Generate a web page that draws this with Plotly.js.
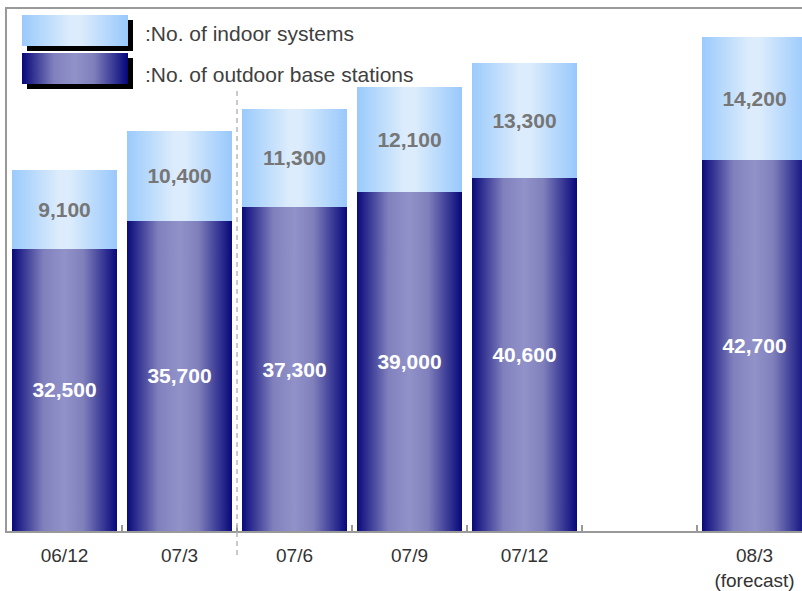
<!DOCTYPE html>
<html>
<head>
<meta charset="utf-8">
<script src="https://cdn.plot.ly/plotly-3.0.1.min.js"></script>
<style>html,body{margin:0;padding:0;background:#fff;}#chart{width:802px;height:591px;}</style>
</head>
<body>
<div id="chart"></div>
<script>
// ---- data ----
const categories = ['06/12', '07/3', '07/6', '07/9', '07/12', ' ', '08/3<br>(forecast)'];
const outdoorStations = [32500, 35700, 37300, 39000, 40600, null, 42700];
const indoorSystems   = [9100, 10400, 11300, 12100, 13300, null, 14200];
const legendLabels = [':No. of indoor systems', ':No. of outdoor base stations'];

const fmt = v => (v === null ? '' : v.toLocaleString('en-US'));
const FONT = '"Liberation Sans", Arial, sans-serif';

// plot area in pixels (for paper conversions of decorations)
const W = 802, H = 591, L = 7, R = 0, T = 9, B = 60;
const pw = W - L - R, ph = H - T - B;
const px = x => (x - L) / pw;
const py = y => (H - B - y) / ph;

const traces = [
  {
    type: 'bar', name: 'outdoor', x: categories, y: outdoorStations,
    text: outdoorStations.map(fmt), textposition: 'inside', insidetextanchor: 'middle',
    textangle: 0, constraintext: 'none',
    textfont: {family: FONT, size: 21, color: '#ffffff', weight: 'bold'},
    marker: {color: '#5a5aa8', line: {width: 0}}, hoverinfo: 'skip'
  },
  {
    type: 'bar', name: 'indoor', x: categories, y: indoorSystems,
    text: indoorSystems.map(fmt), textposition: 'inside', insidetextanchor: 'middle',
    textangle: 0, constraintext: 'none',
    textfont: {family: FONT, size: 21, color: '#767676', weight: 'bold'},
    marker: {color: '#bcdcfc', line: {width: 0}}, hoverinfo: 'skip'
  }
];

const shapes = [
  // legend swatch shadows + swatches
  {type: 'rect', xref: 'paper', yref: 'paper', x0: px(27), x1: px(133), y0: py(51), y1: py(20), fillcolor: '#000', line: {width: 0}},
  {type: 'rect', xref: 'paper', yref: 'paper', x0: px(22), x1: px(128), y0: py(46), y1: py(15), fillcolor: '#bcdcfc', line: {width: 0}},
  {type: 'rect', xref: 'paper', yref: 'paper', x0: px(27), x1: px(133), y0: py(89), y1: py(58), fillcolor: '#000', line: {width: 0}},
  {type: 'rect', xref: 'paper', yref: 'paper', x0: px(22), x1: px(128), y0: py(84), y1: py(53), fillcolor: '#5a5aa8', line: {width: 0}},
  // dashed divider
  {type: 'line', xref: 'x', yref: 'paper', x0: 1.5, x1: 1.5, y0: py(555), y1: py(88), line: {color: '#b8b8b8', width: 1.5, dash: '5px,4px'}}
];

const annotations = [
  {xref: 'paper', yref: 'paper', x: px(143), y: py(33), xanchor: 'left', yanchor: 'middle', showarrow: false,
   text: legendLabels[0], font: {family: FONT, size: 21, color: '#404040'}},
  {xref: 'paper', yref: 'paper', x: px(143), y: py(74), xanchor: 'left', yanchor: 'middle', showarrow: false,
   text: legendLabels[1], font: {family: FONT, size: 21, color: '#404040'}}
];

const layout = {
  width: W, height: H,
  margin: {l: L, r: R, t: T, b: B, pad: 0},
  paper_bgcolor: '#fff', plot_bgcolor: '#fff',
  barmode: 'stack', bargap: 0.08,
  showlegend: false,
  font: {family: FONT, color: '#333'},
  xaxis: {
    type: 'category', range: [-0.5, -0.5 + pw / 115],
    showline: true, linecolor: '#999', linewidth: 2, mirror: true,
    ticks: 'inside', tickson: 'boundaries', ticklen: 6, tickcolor: '#999', tickwidth: 2,
    ticklabelstandoff: 6,
    tickfont: {family: FONT, size: 19, color: '#333'},
    showgrid: false, zeroline: false, fixedrange: true
  },
  yaxis: {
    range: [0, 60100], showline: true, linecolor: '#999', linewidth: 2,
    showticklabels: false, ticks: '', showgrid: false, zeroline: false, fixedrange: true
  },
  shapes: shapes,
  annotations: annotations
};

function addGradients(gd) {
  const svg = gd.querySelector('svg.main-svg');
  let defs = svg.querySelector('defs');
  const NS = 'http://www.w3.org/2000/svg';
  function grad(id, stops) {
    const g = document.createElementNS(NS, 'linearGradient');
    g.setAttribute('id', id);
    g.setAttribute('x1', '0'); g.setAttribute('y1', '0');
    g.setAttribute('x2', '1'); g.setAttribute('y2', '0');
    stops.forEach(([o, c]) => {
      const s = document.createElementNS(NS, 'stop');
      s.setAttribute('offset', o); s.setAttribute('stop-color', c);
      g.appendChild(s);
    });
    defs.appendChild(g);
  }
  grad('gOut', [['0', '#08087a'], ['0.3', '#8080bd'], ['0.5', '#9292ca'], ['0.68', '#7f7fbb'], ['1', '#06067a']]);
  grad('gIn', [['0', '#9acafc'], ['0.45', '#dcecfc'], ['0.55', '#dcecfc'], ['1', '#98c8fc']]);
  const barTraces = gd.querySelectorAll('.barlayer .trace');
  barTraces.forEach((t, i) => {
    t.querySelectorAll('.point path').forEach(p => { p.style.fill = i === 0 ? 'url(#gOut)' : 'url(#gIn)'; });
  });
  gd.querySelectorAll('.shapelayer path').forEach(p => {
    const k = p.getAttribute('data-index');
    if (k === '1') p.style.fill = 'url(#gIn)';
    if (k === '3') p.style.fill = 'url(#gOut)';
  });
}

Plotly.newPlot('chart', traces, layout, {staticPlot: true}).then(addGradients);
</script>
</body>
</html>
